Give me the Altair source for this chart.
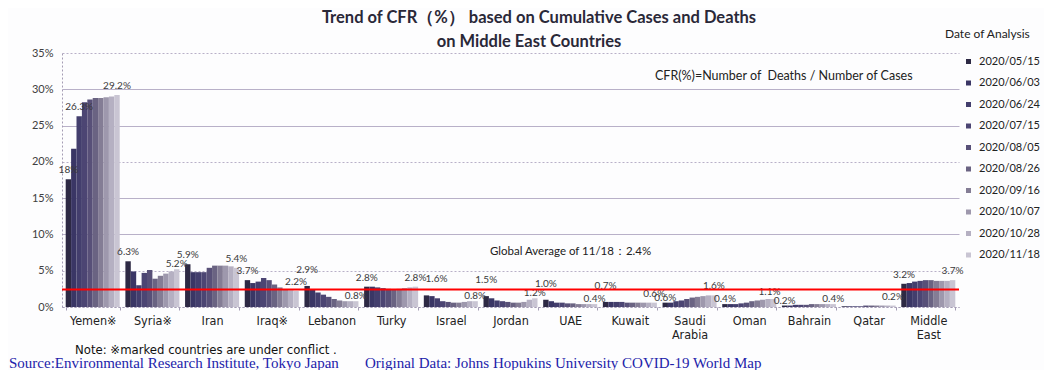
import altair as alt
import pandas as pd

countries = ["Yemen※", "Syria※", "Iran", "Iraq※", "Lebanon", "Turky", "Israel", "Jordan",
             "UAE", "Kuwait", "Saudi Arabia", "Oman", "Bahrain", "Qatar", "Middle East"]
dates = ["2020/05/15", "2020/06/03", "2020/06/24", "2020/07/15", "2020/08/05",
         "2020/08/26", "2020/09/16", "2020/10/07", "2020/10/28", "2020/11/18"]

yemen = [17.6, 21.8, 26.3, 28.2, 28.6, 28.8, 28.8, 28.9, 29.0, 29.2]
syria = [6.3, 4.9, 3.0, 4.7, 5.1, 3.9, 4.3, 4.6, 4.9, 5.2]
iran = [5.9, 4.8, 4.8, 4.8, 5.4, 5.7, 5.7, 5.7, 5.6, 5.4]
iraq = [3.7, 3.3, 3.5, 4.0, 3.7, 3.1, 2.7, 2.4, 2.3, 2.2]
lebanon = [2.9, 2.4, 2.0, 1.7, 1.4, 1.1, 0.9, 0.8, 0.8, 0.8]
turky = [2.8, 2.8, 2.7, 2.6, 2.5, 2.4, 2.5, 2.6, 2.7, 2.8]
israel = [1.6, 1.5, 1.2, 0.8, 0.7, 0.6, 0.6, 0.7, 0.8, 0.8]
jordan = [1.5, 1.2, 0.9, 0.8, 0.7, 0.6, 0.6, 0.7, 1.0, 1.2]
uae = [1.0, 0.8, 0.6, 0.6, 0.5, 0.5, 0.4, 0.4, 0.4, 0.4]
kuwait = [0.7, 0.7, 0.7, 0.7, 0.6, 0.6, 0.6, 0.6, 0.6, 0.6]
saudi = [0.6, 0.6, 0.8, 0.9, 1.1, 1.3, 1.4, 1.5, 1.6, 1.6]
oman = [0.4, 0.4, 0.4, 0.5, 0.6, 0.8, 0.9, 1.0, 1.1, 1.1]
bahrain = [0.2, 0.2, 0.3, 0.3, 0.3, 0.4, 0.4, 0.4, 0.4, 0.4]
qatar = [0.1, 0.1, 0.1, 0.1, 0.2, 0.2, 0.2, 0.2, 0.2, 0.2]
middle_east = [3.2, 3.3, 3.5, 3.6, 3.7, 3.7, 3.6, 3.6, 3.6, 3.7]

series = [yemen, syria, iran, iraq, lebanon, turky, israel, jordan, uae, kuwait,
          saudi, oman, bahrain, qatar, middle_east]

# labelled bars: (country, date index, label text)
label_country = ["Yemen※", "Yemen※", "Yemen※", "Syria※", "Syria※", "Iran", "Iran",
                 "Iraq※", "Iraq※", "Lebanon", "Lebanon", "Turky", "Turky",
                 "Israel", "Israel", "Jordan", "Jordan", "UAE", "UAE", "Kuwait", "Kuwait",
                 "Saudi Arabia", "Saudi Arabia", "Oman", "Oman", "Bahrain", "Bahrain",
                 "Qatar", "Middle East", "Middle East"]
label_index = [0, 2, 9, 0, 9, 0, 9, 0, 9, 0, 9, 0, 9, 0, 9, 0, 9, 0, 9, 0, 9,
               0, 9, 0, 9, 0, 9, 9, 0, 9]
label_text = ["18%", "26.3%", "29.2%", "6.3%", "5.2%", "5.9%", "5.4%", "3.7%", "2.2%",
              "2.9%", "0.8%", "2.8%", "2.8%", "1.6%", "0.8%", "1.5%", "1.2%", "1.0%", "0.4%",
              "0.7%", "0.6%", "0.6%", "1.6%", "0.4%", "1.1%", "0.2%", "0.4%", "0.2%",
              "3.2%", "3.7%"]
# label placement style (how far above its bar each label sits)
label_level = ["mid", "mid", "mid", "mid", "lo", "mid", "mid", "mid", "mid",
               "hi", "lo", "mid", "mid", "hiR", "lo", "hi", "lo", "hi", "lo", "hi", "mid",
               "lo", "mid", "lo", "loL", "lo", "lo", "mid", "mid", "mid"]
level_style = {"hi": (0, -16), "hiR": (10, -16), "mid": (0, -9), "lo": (0, -5),
               "loL": (-4, -7)}

global_avg = 2.4
y_ticks = [0, 5, 10, 15, 20, 25, 30, 35]

bar_colors = ["#2d2944", "#3a3665", "#433e6d", "#4c4573", "#585078",
              "#6a6382", "#847d95", "#9e98ad", "#b5b0c2", "#c9c5d3"]

NARROW = "'Liberation Sans Narrow', 'DejaVu Sans Condensed', 'Liberation Sans', sans-serif"

rows = []
for c, vals in zip(countries, series):
    for d, v in zip(dates, vals):
        rows.append({"country": c, "date": d, "cfr": v})
df = pd.DataFrame(rows)

lab_rows = []
for c, i, t, lv in zip(label_country, label_index, label_text, label_level):
    vals = series[countries.index(c)]
    lab_rows.append({"country": c, "date": dates[i], "cfr": vals[i], "label": t, "level": lv})
df_lab = pd.DataFrame(lab_rows)

x_enc = alt.X(
    "country:N", sort=countries,
    scale=alt.Scale(paddingInner=0.095, paddingOuter=0.062),
    axis=alt.Axis(title=None, labelAngle=0, tickBand="extent", tickSize=3,
                  tickColor="#a49cb4", domainDash=[2, 2], domainColor="#a49cb4",
                  labelFont=NARROW, labelFontSize=12.5, labelColor="#222222",
                  labelExpr="split(datum.label, ' ')", labelLineHeight=14,
                  labelPadding=4, grid=False),
)
xoff_enc = alt.XOffset("date:N", sort=dates, scale=alt.Scale(paddingInner=0, paddingOuter=0))
y_enc = alt.Y(
    "cfr:Q", scale=alt.Scale(domain=[0, 35], nice=False),
    axis=alt.Axis(title=None, values=y_ticks, labelExpr="datum.value + '%'", ticks=False,
                  labelOverlap=False,
                  domain=True, domainDash=[2, 2], domainColor="#a49cb4",
                  gridColor="#b8b0c8",
                  gridDash=alt.condition("datum.value == 35 || datum.value == 20 || datum.value == 5 || datum.value == 0",
                                         alt.value([2, 2]), alt.value([])),
                  labelFont="Lato", labelFontSize=11, labelColor="#404040", labelPadding=9),
)

bars = alt.Chart(df).mark_bar().encode(
    x=x_enc, xOffset=xoff_enc, y=y_enc,
    color=alt.Color("date:N", sort=dates,
                    scale=alt.Scale(domain=dates, range=bar_colors),
                    legend=alt.Legend(title=None, orient="none", legendX=901, legendY=3,
                                      symbolType="square", symbolSize=25,
                                      labelFont="Lato", labelFontSize=11, labelColor="#222222",
                                      rowPadding=9.5, labelOffset=5, padding=0)),
)

label_layers = []
for lv, (ddx, ddy) in level_style.items():
    label_layers.append(
        alt.Chart(df_lab).transform_filter(f"datum.level == '{lv}'").mark_text(
            baseline="middle", dx=ddx, dy=ddy, font="Lato", fontSize=10, color="#3a3a3a").encode(
            x=x_enc, xOffset=xoff_enc, y=y_enc, text="label:N"))

avg_rule = alt.Chart(pd.DataFrame({"cfr": [global_avg]})).mark_rule(
    color="#ff0000", strokeWidth=2).encode(y=y_enc)


def note(text, x, y, **kw):
    return alt.Chart(pd.DataFrame({"t": [text]})).mark_text(**kw).encode(
        x=alt.value(x), y=alt.value(y), text="t:N")


title1 = note("Trend of CFR（%） based on Cumulative Cases and Deaths", 477, -35,
              font="Lato", fontSize=16.5, fontWeight="bold", color="#2a2838", baseline="middle")
title2 = note("on Middle East Countries", 467, -11,
              font="Lato", fontSize=16.5, fontWeight="bold", color="#2a2838", baseline="middle")
leg_title = note("Date of Analysis", 883, -19, font="Lato", fontSize=12, color="#222222",
                 align="left", baseline="middle")
formula = note("CFR(%)=Number of\u00a0 Deaths / Number of Cases", 593, 23, font="Lato",
               fontSize=12.5, color="#222222", align="left", baseline="middle")
glob = note("Global Average of 11/18：2.4%", 428, 199, font="Lato", fontSize=11.5,
            color="#222222", align="left", baseline="middle")
conflict = note("Note: ※marked countries are under conflict .", 13, 301,
                font=NARROW, fontSize=13, color="#111111",
                align="left", baseline="alphabetic")
source = note("Source:Environmental Research Institute, Tokyo Japan", -53, 315,
              font="Liberation Serif", fontSize=15, color="#2222aa",
              align="left", baseline="alphabetic")
original = note("Original Data: Johns Hopukins University COVID-19 World Map", 303, 315,
                font="Liberation Serif", fontSize=15, color="#2222aa",
                align="left", baseline="alphabetic")

chart = alt.layer(bars, *label_layers, avg_rule, title1, title2, leg_title, formula, glob,
                  conflict, source, original).properties(
    width=897, height=254,
    autosize="none",
    padding={"left": 54, "top": 45, "right": 85, "bottom": 63},
    background="#fdfdfe",
).configure_view(strokeWidth=0)

chart.save("out.html", embed_options={"renderer": "svg", "actions": False})
